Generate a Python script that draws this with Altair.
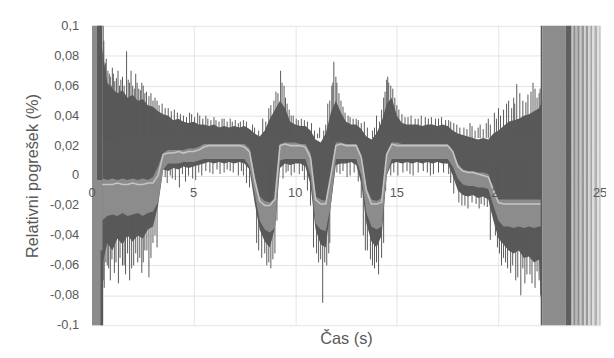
import altair as alt
import pandas as pd

# ---- time grid (s) for the envelopes of the two noisy series ----
T = [0.5, 0.75,
     1.0, 1.25, 1.5, 1.75, 2.0, 2.25, 2.5, 2.75, 3.0, 3.25, 3.5, 3.75,
     4.0, 4.25, 4.5, 4.75, 5.0, 5.25, 5.5, 5.75, 6.0, 6.25, 6.5, 6.75,
     7.0, 7.25, 7.5, 7.75, 8.0, 8.25, 8.5, 8.75, 9.0, 9.25, 9.5, 9.75,
     10.0, 10.25, 10.5, 10.75, 11.0, 11.25, 11.5, 11.75, 12.0, 12.25, 12.5, 12.75,
     13.0, 13.25, 13.5, 13.75, 14.0, 14.25, 14.5, 14.75, 15.0, 15.25, 15.5, 15.75,
     16.0, 16.25, 16.5, 16.75, 17.0, 17.25, 17.5, 17.75, 18.0, 18.25, 18.5, 18.75,
     19.0, 19.25, 19.5, 19.75, 20.0, 20.25, 20.5, 20.75, 21.0, 21.25, 21.5, 21.75,
     22.0, 22.15]

DARK_HI = [0.085, 0.062,
           0.058, 0.055, 0.057, 0.052, 0.054, 0.050, 0.051, 0.047, 0.046, 0.043, 0.041, 0.040,
           0.037, 0.038, 0.036, 0.035, 0.036, 0.034, 0.034, 0.033, 0.034, 0.032, 0.033, 0.032,
           0.033, 0.032, 0.033, 0.031, 0.028, 0.026, 0.030, 0.038, 0.044, 0.050, 0.045, 0.036,
           0.034, 0.033, 0.033, 0.030, 0.024, 0.022, 0.028, 0.042, 0.050, 0.042, 0.036, 0.034,
           0.034, 0.031, 0.026, 0.024, 0.028, 0.036, 0.048, 0.052, 0.040, 0.035, 0.034, 0.034,
           0.034, 0.033, 0.034, 0.034, 0.033, 0.034, 0.033, 0.030, 0.028, 0.027, 0.026, 0.025,
           0.024, 0.025, 0.024, 0.028, 0.030, 0.033, 0.036, 0.037, 0.038, 0.040, 0.041, 0.043,
           0.045, 0.050]

DARK_LO = [-0.060, -0.045,
           -0.050, -0.042, -0.046, -0.040, -0.044, -0.040, -0.042, -0.036, -0.034, -0.020, 0.004, 0.003,
           0.005, 0.004, 0.006, 0.005, 0.006, 0.007, 0.008, 0.009, 0.008, 0.009, 0.008, 0.009,
           0.008, 0.009, 0.008, 0.004, -0.018, -0.036, -0.044, -0.048, -0.035, 0.005, 0.008, 0.007,
           0.008, 0.008, 0.006, -0.006, -0.036, -0.046, -0.048, -0.020, 0.007, 0.008, 0.008, 0.009,
           0.007, -0.005, -0.032, -0.044, -0.048, -0.040, 0.000, 0.008, 0.009, 0.008, 0.009, 0.008,
           0.009, 0.008, 0.009, 0.008, 0.009, 0.008, 0.008, 0.000, -0.010, -0.013, -0.014, -0.013,
           -0.015, -0.014, -0.016, -0.030, -0.042, -0.046, -0.050, -0.052, -0.050, -0.055, -0.054, -0.058,
           -0.056, -0.100]

LIGHT_HI = [-0.002, -0.003,
            -0.002, -0.003, -0.002, -0.003, -0.002, -0.003, -0.002, -0.003, -0.001, 0.006, 0.015, 0.017,
            0.017, 0.017, 0.017, 0.018, 0.018, 0.019, 0.021, 0.021, 0.021, 0.021, 0.021, 0.021,
            0.021, 0.021, 0.021, 0.018, 0.000, -0.014, -0.017, -0.018, -0.015, 0.021, 0.022, 0.022,
            0.022, 0.021, 0.021, 0.015, -0.014, -0.016, -0.017, 0.000, 0.022, 0.022, 0.021, 0.021,
            0.021, 0.014, -0.008, -0.016, -0.017, -0.015, 0.015, 0.022, 0.022, 0.021, 0.021, 0.021,
            0.021, 0.021, 0.021, 0.021, 0.021, 0.021, 0.021, 0.017, 0.008, 0.004, 0.003, 0.003,
            0.002, 0.002, 0.001, -0.008, -0.016, -0.016, -0.016, -0.016, -0.016, -0.016, -0.016, -0.016,
            -0.016, -0.016]

LIGHT_LO = [-0.030, -0.027,
            -0.026, -0.027, -0.025, -0.027, -0.026, -0.025, -0.027, -0.025, -0.024, -0.018, 0.004, 0.008,
            0.008, 0.008, 0.009, 0.009, 0.009, 0.010, 0.011, 0.011, 0.011, 0.011, 0.011, 0.011,
            0.011, 0.011, 0.011, 0.006, -0.012, -0.030, -0.036, -0.038, -0.035, 0.010, 0.011, 0.011,
            0.011, 0.011, 0.011, 0.000, -0.032, -0.036, -0.037, -0.020, 0.011, 0.011, 0.011, 0.011,
            0.011, 0.000, -0.025, -0.034, -0.036, -0.034, 0.000, 0.011, 0.011, 0.011, 0.011, 0.011,
            0.011, 0.011, 0.011, 0.011, 0.011, 0.011, 0.011, 0.006, -0.002, -0.006, -0.007, -0.007,
            -0.008, -0.008, -0.009, -0.020, -0.030, -0.034, -0.034, -0.035, -0.034, -0.035, -0.034, -0.035,
            -0.034, -0.034]

CENTER = [-0.006, -0.006,
          -0.006, -0.005, -0.006, -0.006, -0.005, -0.006, -0.006, -0.005, -0.005, 0.000, 0.014, 0.015,
          0.015, 0.016, 0.015, 0.016, 0.016, 0.017, 0.019, 0.020, 0.020, 0.020, 0.020, 0.020,
          0.020, 0.020, 0.019, 0.016, -0.003, -0.017, -0.020, -0.020, -0.016, 0.020, 0.021, 0.020,
          0.020, 0.020, 0.019, 0.012, -0.016, -0.019, -0.019, 0.000, 0.020, 0.021, 0.020, 0.020,
          0.020, 0.012, -0.010, -0.019, -0.019, -0.018, 0.014, 0.021, 0.020, 0.020, 0.020, 0.020,
          0.020, 0.020, 0.020, 0.020, 0.020, 0.020, 0.020, 0.016, 0.006, 0.003, 0.002, 0.002,
          0.001, 0.000, -0.001, -0.010, -0.018, -0.019, -0.019, -0.019, -0.019, -0.019, -0.019, -0.019,
          -0.019, -0.019]

# ---- upward spikes of the dark series (time, tip value) ----
UP_T = [0.55, 0.62, 0.7, 0.85, 0.95, 1.05, 1.2, 1.35, 1.5, 1.7, 1.85, 2.0, 2.15, 2.3, 2.45,
        2.6, 2.8, 3.0, 3.3, 3.6, 3.9, 4.2, 4.5, 4.9, 5.3, 5.7, 6.1, 6.5, 6.9, 7.3,
        7.9, 8.4, 8.7, 8.95, 9.15, 9.28, 9.45, 9.6, 9.9, 10.3, 10.8, 11.2, 11.6, 11.8, 11.9,
        12.05, 12.25, 12.6, 13.0, 13.4, 14.0, 14.35, 14.5, 14.6, 14.8, 15.0, 15.4, 15.9, 16.4,
        16.9, 17.4, 17.8, 18.3, 18.7, 19.1, 19.5, 19.8, 20.1, 20.4, 20.65, 20.9, 21.2, 21.45,
        21.7, 21.9, 22.05,
        0.58, 0.66, 0.78, 0.9, 1.0, 1.12, 1.28, 1.42, 1.58, 1.78, 1.92, 2.08, 2.22, 2.38, 2.52,
        2.68, 2.9, 3.1, 3.2, 3.45, 3.75, 4.05, 4.35, 4.65, 4.8, 5.05, 5.2, 5.45, 5.6, 5.85,
        6.0, 6.25, 6.4, 6.65, 6.8, 7.05, 7.2, 7.45, 7.6, 8.0, 8.2, 8.55, 8.8, 9.05, 9.35,
        9.52, 9.7, 9.8, 10.05, 10.15, 10.45, 10.6, 10.95, 11.1, 11.4, 11.5, 11.7, 11.85, 12.0,
        12.15, 12.35, 12.45, 12.7, 12.85, 13.1, 13.25, 13.55, 13.8, 13.9, 14.15, 14.25, 14.42,
        14.55, 14.7, 14.9, 15.1, 15.25, 15.55, 15.7, 16.05, 16.2, 16.55, 16.7, 17.05, 17.2,
        17.55, 17.65, 17.95, 18.1, 18.45, 18.6, 18.85, 19.0, 19.25, 19.4, 19.6, 19.9, 20.0,
        20.25, 20.5, 20.75, 20.8, 21.05, 21.35, 21.6, 21.8, 22.0]
UP_V = [0.1, 0.07, 0.078, 0.068, 0.06, 0.068, 0.065, 0.06, 0.066, 0.083, 0.062, 0.06, 0.068, 0.058, 0.062,
        0.055, 0.053, 0.05, 0.047, 0.045, 0.043, 0.042, 0.04, 0.041, 0.04, 0.038, 0.037, 0.038, 0.036, 0.036,
        0.034, 0.038, 0.045, 0.05, 0.055, 0.07, 0.06, 0.048, 0.04, 0.038, 0.035, 0.032, 0.048, 0.06, 0.076,
        0.062, 0.05, 0.04, 0.038, 0.036, 0.04, 0.052, 0.064, 0.062, 0.058, 0.047, 0.039, 0.038, 0.039,
        0.038, 0.037, 0.035, 0.032, 0.033, 0.034, 0.038, 0.042, 0.04, 0.048, 0.045, 0.061, 0.05, 0.054,
        0.062, 0.052, 0.058,
        0.09, 0.075, 0.07, 0.066, 0.072, 0.063, 0.07, 0.064, 0.06, 0.064, 0.07, 0.058, 0.062, 0.057, 0.06,
        0.056, 0.055, 0.052, 0.05, 0.048, 0.045, 0.044, 0.041, 0.039, 0.042, 0.039, 0.042, 0.038, 0.04, 0.037,
        0.039, 0.036, 0.038, 0.036, 0.038, 0.037, 0.035, 0.037, 0.036, 0.032, 0.03, 0.036, 0.047, 0.056, 0.062,
        0.052, 0.044, 0.04, 0.038, 0.037, 0.037, 0.036, 0.03, 0.028, 0.03, 0.034, 0.05, 0.062, 0.066,
        0.055, 0.046, 0.042, 0.039, 0.038, 0.037, 0.035, 0.032, 0.03, 0.032, 0.036, 0.044, 0.056,
        0.066, 0.06, 0.052, 0.044, 0.041, 0.039, 0.04, 0.038, 0.04, 0.038, 0.039, 0.038, 0.039,
        0.037, 0.036, 0.034, 0.032, 0.031, 0.035, 0.03, 0.032, 0.031, 0.035, 0.034, 0.038, 0.045,
        0.044, 0.05, 0.052, 0.048, 0.055, 0.049, 0.056, 0.058, 0.055]

# ---- downward spikes of the dark series (time, tip value) ----
DOWN_T = [0.6, 0.75, 0.9, 1.1, 1.3, 1.5, 1.65, 1.85, 2.05, 2.25, 2.45, 2.6, 2.8, 3.0, 3.2,
          3.7, 3.95, 4.3, 4.6, 5.1, 5.4, 5.8, 6.3, 6.8, 7.2, 7.6,
          8.1, 8.35, 8.6, 8.8, 9.0, 9.4, 9.8, 10.2, 10.6,
          10.9, 11.15, 11.35, 11.55, 11.7, 12.2, 12.7, 13.1,
          13.45, 13.7, 13.9, 14.1, 14.25, 14.7, 15.3, 15.8, 16.3, 16.8, 17.3,
          17.8, 18.2, 18.5, 18.9, 19.3, 19.6, 19.7,
          19.95, 20.15, 20.35, 20.6, 20.85, 21.1, 21.3, 21.55, 21.8, 22.0,
          0.55, 0.68, 0.82, 0.98, 1.18, 1.38, 1.58, 1.75, 1.95, 2.15, 2.35, 2.52, 2.7, 2.9, 3.1,
          3.6, 3.85, 4.1, 4.45, 4.75, 4.95, 5.25, 5.6, 5.95, 6.15, 6.5, 6.65, 6.95, 7.35, 7.45, 7.75,
          8.2, 8.5, 8.7, 8.9, 9.1, 9.55, 9.65, 9.95, 10.35, 10.45, 10.75, 11.05, 11.25, 11.45,
          11.65, 11.8, 12.05, 12.35, 12.55, 12.9, 13.25, 13.35, 13.55, 13.8, 14.0, 14.35, 14.45,
          14.85, 15.05, 15.5, 15.65, 16.05, 16.5, 16.65, 17.05, 17.55, 17.65, 18.05, 18.35, 18.7,
          19.05, 19.15, 19.45, 19.85, 20.05, 20.25, 20.45, 20.7, 20.95, 21.2, 21.4, 21.65, 21.9, 22.08]
DOWN_V = [-0.075, -0.06, -0.07, -0.065, -0.072, -0.06, -0.066, -0.07, -0.06, -0.058, -0.065, -0.05, -0.068, -0.045, -0.048,
          -0.005, -0.002, -0.008, -0.004, -0.003, 0.0, 0.002, 0.001, 0.003, 0.0, -0.005,
          -0.045, -0.055, -0.06, -0.062, -0.052, -0.002, 0.0, 0.001, -0.01,
          -0.048, -0.058, -0.085, -0.06, -0.045, 0.001, 0.0, -0.004,
          -0.05, -0.056, -0.062, -0.066, -0.055, 0.0, 0.002, 0.0, 0.003, 0.001, 0.002,
          -0.012, -0.02, -0.022, -0.019, -0.02, -0.043, -0.025,
          -0.048, -0.06, -0.058, -0.065, -0.07, -0.08, -0.072, -0.066, -0.075, -0.07,
          -0.07, -0.058, -0.062, -0.056, -0.058, -0.055, -0.06, -0.052, -0.062, -0.052, -0.055, -0.058, -0.05, -0.055, -0.04,
          -0.001, 0.0, -0.003, 0.001, 0.0, -0.002, 0.002, 0.003, 0.001, 0.004, 0.002, 0.004, 0.002, 0.003, 0.0, -0.008,
          -0.05, -0.052, -0.058, -0.056, -0.03, 0.002, 0.003, 0.002, 0.003, -0.003, -0.02, -0.052, -0.056, -0.058,
          -0.052, -0.01, 0.002, 0.003, -0.001, 0.002, -0.015, -0.04, -0.05, -0.06, -0.058, -0.045, -0.01,
          0.002, 0.0, 0.003, 0.001, 0.002, 0.002, 0.0, 0.002, 0.001, -0.005, -0.018, -0.02, -0.018,
          -0.022, -0.019, -0.021, -0.04, -0.052, -0.055, -0.062, -0.06, -0.068, -0.062, -0.066, -0.072, -0.064, -0.08]

# ---- full-range blocks at the start and the end of the record ----
BLOCK_T0 = [0.0, 0.25, 0.42, 22.08, 22.16, 23.3, 23.6, 23.68, 23.8, 23.88, 24.0, 24.08, 24.22,
            24.3, 24.42, 24.52, 24.62, 24.72, 24.85, 24.95]
BLOCK_T1 = [0.5, 0.5, 0.55, 22.16, 23.3, 23.6, 23.68, 23.8, 23.88, 24.0, 24.08, 24.22, 24.3,
            24.42, 24.52, 24.62, 24.72, 24.85, 24.95, 25.02]
BLOCK_LO = [-0.1, -0.003, -0.1, -0.1, -0.1, -0.1, -0.1, -0.1, -0.1, -0.1, -0.1, -0.1, -0.1,
            -0.1, -0.1, -0.1, -0.1, -0.1, -0.1, -0.1]
BLOCK_HI = [0.1, 0.1, -0.05, 0.1, 0.1, 0.1, 0.1, 0.1, 0.1, 0.1, 0.1, 0.1, 0.1,
            0.1, 0.1, 0.1, 0.1, 0.1, 0.1, 0.1]
BLOCK_COL = ["#8c8c8c", "#595959", "#595959", "#595959", "#8c8c8c", "#5f5f5f", "#c4c4c4",
             "#8c8c8c", "#b8b8b8", "#8f8f8f", "#c8c8c8", "#999999", "#cfcfcf", "#9a9a9a",
             "#d4d4d4", "#a6a6a6", "#dcdcdc", "#b0b0b0", "#e0e0e0", "#c8c8c8"]

X_TICKS = [0, 5, 10, 15, 20, 25]
Y_TICKS = [-0.1, -0.08, -0.06, -0.04, -0.02, 0, 0.02, 0.04, 0.06, 0.08, 0.1]
Y_LABELS = ["-0,1", "-0,08", "-0,06", "-0,04", "-0,02", "0", "0,02", "0,04", "0,06", "0,08", "0,1"]

DARK = "#595959"
LIGHT = "#8c8c8c"
MEAN = "#c4c4c4"
TXT = "#595959"

band_dark = pd.DataFrame({"t": T, "hi": DARK_HI, "lo": DARK_LO})
band_light = pd.DataFrame({"t": T, "hi": LIGHT_HI, "lo": LIGHT_LO})
mean_df = pd.DataFrame({"t": T, "v": CENTER})
up_df = pd.DataFrame({"t": UP_T, "v": UP_V})
down_df = pd.DataFrame({"t": DOWN_T, "v": DOWN_V})
blocks = pd.DataFrame({"t0": BLOCK_T0, "t1": BLOCK_T1, "lo": BLOCK_LO, "hi": BLOCK_HI, "c": BLOCK_COL})
xlab = pd.DataFrame({"t": X_TICKS, "lab": [str(v) for v in X_TICKS]})
ylab = pd.DataFrame({"v": Y_TICKS, "lab": Y_LABELS})

xs = alt.Scale(domain=[0, 25], nice=False, zero=False)
ys = alt.Scale(domain=[-0.1, 0.1], nice=False, zero=False)

X_AX = alt.Axis(values=X_TICKS, labels=False, ticks=False, domain=False, grid=True,
                gridColor="#e4e4e4", title="Čas (s)", titlePadding=5)
Y_AX = alt.Axis(values=Y_TICKS, labels=False, ticks=False, domain=False, grid=True,
                gridColor="#e4e4e4",
                title="Relativni pogrešek (%)", titlePadding=52)


def X(field):
    return alt.X(field, type="quantitative", scale=xs, axis=X_AX)


def Y(field):
    return alt.Y(field, type="quantitative", scale=ys, axis=Y_AX)


dark_area = alt.Chart(band_dark).mark_area(color=DARK, opacity=1).encode(
    x=X("t"), y=Y("hi"), y2="lo")

up_spikes = alt.Chart(up_df).mark_rule(color=DARK, strokeWidth=1).encode(
    x=X("t"), y=Y("v"), y2=alt.datum(0.025))

down_spikes = alt.Chart(down_df).mark_rule(color=DARK, strokeWidth=1).encode(
    x=X("t"), y=Y("v"), y2=alt.datum(0.01))

light_area = alt.Chart(band_light).mark_area(color=LIGHT, opacity=1).encode(
    x=X("t"), y=Y("hi"), y2="lo")

mean_line = alt.Chart(mean_df).mark_line(color=MEAN, strokeWidth=1.6).encode(
    x=X("t"), y=Y("v"))

block_rects = alt.Chart(blocks).mark_rect().encode(
    x=X("t0"), x2="t1", y=Y("lo"), y2="hi",
    color=alt.Color("c:N", scale=None))

x_labels = alt.Chart(xlab).mark_text(dy=18, fontSize=13, color=TXT,
                                     font="Liberation Sans").encode(
    x=X("t"), y=alt.YDatum(0, scale=ys, axis=Y_AX), text="lab:N")

# y tick labels, placed left of the plot area (x = 0 minus label padding)
y_labels = alt.Chart(ylab).mark_text(dx=-13, align="right", baseline="middle", fontSize=13,
                                     color=TXT, font="Liberation Sans").encode(
    x=alt.XDatum(0, scale=xs, axis=X_AX), y=Y("v"), text="lab:N")

chart = alt.layer(
    dark_area, up_spikes, down_spikes, light_area, mean_line, block_rects, x_labels, y_labels
).properties(
    width=514, height=303,
    autosize="none",
    padding={"left": 85, "top": 16, "right": 6, "bottom": 22},
    background="white",
).configure_view(
    stroke=None
).configure_axis(
    titleFont="Liberation Sans", titleFontSize=16.5, titleColor=TXT,
    titleFontWeight="normal",
)

chart.save("out.html", embed_options={"renderer": "svg", "actions": False})
